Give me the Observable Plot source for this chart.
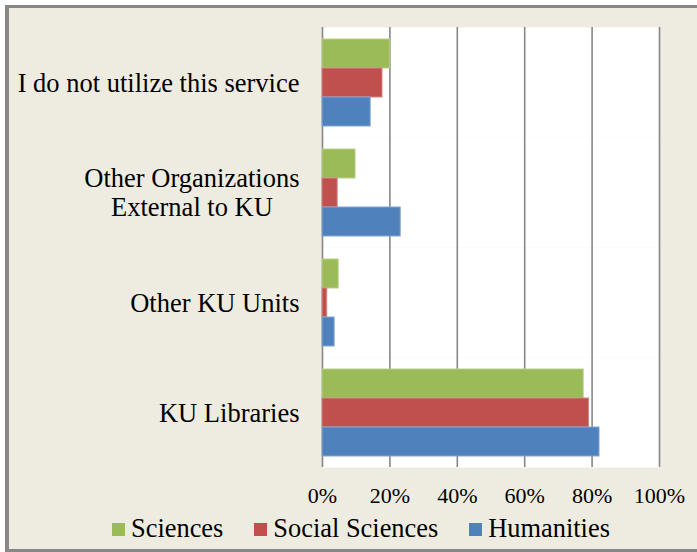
<!DOCTYPE html>
<html>
<head>
<meta charset="utf-8">
<script src="https://cdn.jsdelivr.net/npm/d3@7"></script>
<script src="https://cdn.jsdelivr.net/npm/@observablehq/plot@0.6"></script>
<style>
  html, body { margin: 0; padding: 0; background: #ffffff; }
  #frame {
    position: absolute; left: 5px; top: 5px;
    width: 692px; height: 541px;
    background: #EEECE1;
    border-left: 4px solid #878787;
    border-top: 3px solid #878787;
    border-bottom: 3px solid #878787;
    overflow: hidden;
    font-family: 'Liberation Serif', 'DejaVu Serif', serif;
  }
  #legend {
    height: 39px; box-sizing: border-box;
    padding-top: 3px; padding-left: 103px;
    font-size: 26.4px; line-height: 30px; color: #000;
    white-space: nowrap;
    font-family: 'Liberation Serif', 'DejaVu Serif', serif;
  }
  #legend .item { display: inline-block; margin-right: 31px; }
  #legend .sw { display: inline-block; width: 13px; height: 13px; margin-right: 6px; position: relative; top: -1px; }
  #chart svg, #chart svg text { font-family: 'Liberation Serif', 'DejaVu Serif', serif !important; }
</style>
</head>
<body>
<div id="frame"><div id="chart"></div><div id="legend"></div></div>
<script>
const categories = ["I do not utilize this service", "Other Organizations External to KU", "Other KU Units", "KU Libraries"];
const categoryLabels = ["I do not utilize this service", "Other Organizations\nExternal to KU", "Other KU Units", "KU Libraries"];
const seriesNames = ["Sciences", "Social Sciences", "Humanities"];
const seriesColors = ["#9BBB59", "#C0504D", "#4F81BD"];
const seriesEdges = ["#B9CF8C", "#D48583", "#84A6D2"];
const sciences = [20.1, 9.8, 4.8, 77.5];
const socialSciences = [17.8, 4.5, 1.4, 79.1];
const humanities = [14.3, 23.2, 3.6, 82.2];
const xTicks = [0, 20, 40, 60, 80, 100];

const seriesValues = [sciences, socialSciences, humanities];
const data = [];
categories.forEach((c, i) => {
  seriesNames.forEach((s, j) => {
    data.push({category: c, series: s, value: seriesValues[j][i]});
  });
});
const labelOf = new Map(categories.map((c, i) => [c, categoryLabels[i]]));

const chart = Plot.plot({
  width: 688,
  height: 502,
  marginLeft: 313,
  marginRight: 38,
  marginTop: 18,
  marginBottom: 43,
  style: {background: "transparent", fontFamily: "'Liberation Serif', 'DejaVu Serif', serif", color: "#000"},
  x: {domain: [0, 100], axis: null},
  y: {domain: seriesNames, paddingInner: 0, paddingOuter: 0.375, axis: null},
  fy: {domain: categories, padding: 0, axis: null},
  color: {domain: seriesNames, range: seriesColors},
  marks: [
    Plot.frame({fill: "white", stroke: "none"}),
    Plot.gridX(xTicks, {stroke: "#878787", strokeOpacity: 1, strokeWidth: 1.6}),
    Plot.barX(data, {
      x: "value", y: "series", fy: "category",
      fill: "series",
      stroke: d => seriesEdges[seriesNames.indexOf(d.series)],
      strokeWidth: 1
    }),
    Plot.axisX(xTicks, {
      tickFormat: d => d + "%", tickSize: 0, tickPadding: 20,
      fontSize: 22, label: null, fill: "#000"
    }),
    Plot.axisFy({
      anchor: "left", tickSize: 0, tickPadding: 23, fontSize: 26.5,
      label: null, fill: "#000", lineHeight: 1.1,
      tickFormat: d => labelOf.get(d)
    })
  ]
});
document.getElementById("chart").appendChild(chart);

// center-align lines of multi-line category labels (block stays right-aligned)
chart.querySelectorAll("text").forEach(t => {
  const spans = t.querySelectorAll("tspan");
  if (spans.length > 1) {
    const b = t.getBBox();
    const cx = b.x + b.width / 2;
    t.setAttribute("text-anchor", "middle");
    spans.forEach(s => s.setAttribute("x", cx));
  }
});

const legend = document.getElementById("legend");
seriesNames.forEach((s, j) => {
  const item = document.createElement("span");
  item.className = "item";
  const sw = document.createElement("span");
  sw.className = "sw";
  sw.style.background = seriesColors[j];
  item.appendChild(sw);
  item.appendChild(document.createTextNode(s));
  legend.appendChild(item);
});
</script>
</body>
</html>
